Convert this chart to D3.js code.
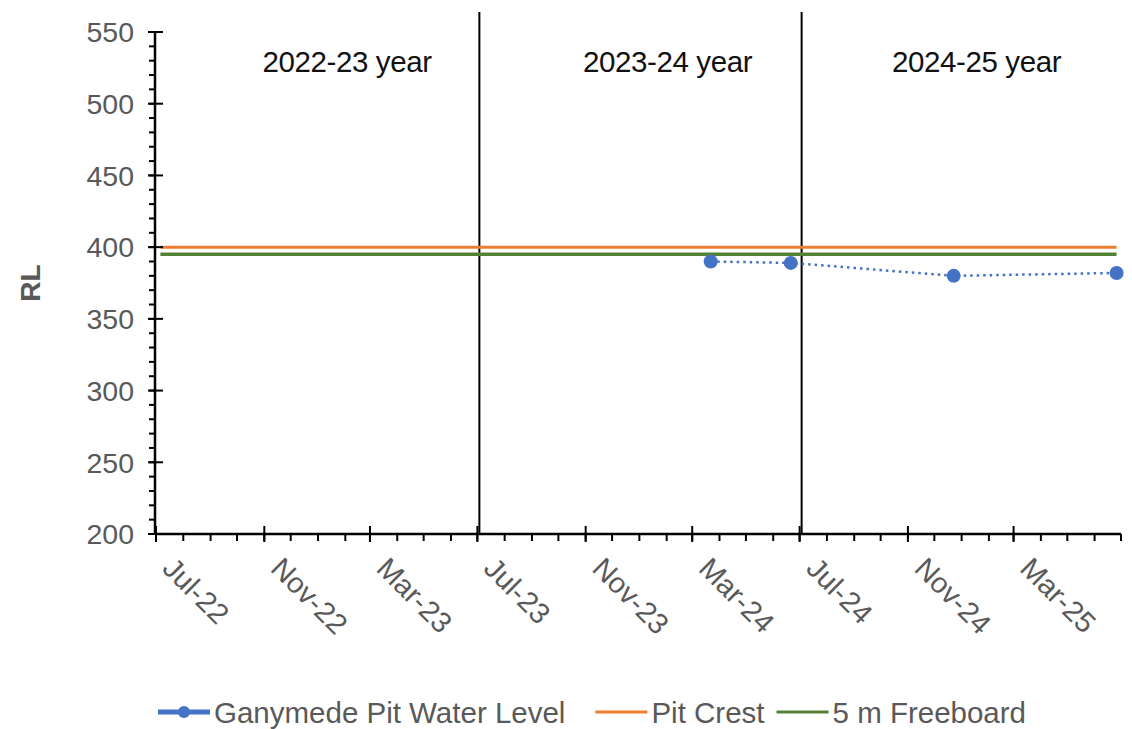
<!DOCTYPE html>
<html>
<head>
<meta charset="utf-8">
<script src="https://cdn.jsdelivr.net/npm/d3@7"></script>
<style>
  html, body { margin: 0; padding: 0; background: #fff; }
  svg { display: block; font-family: "Liberation Sans", Arial, sans-serif; }
</style>
</head>
<body>
<svg id="chart" width="1132" height="729"></svg>
<script>
// ---- data ----
const waterDates = ["2024-03-22", "2024-06-21", "2024-12-23", "2025-06-26"];
const waterLevels = [390, 389, 380, 382];
const crestSpan = ["2022-07-06", "2025-06-26"];
const pitCrest = 400;
const freeboard = 395;
const yearLineDates = ["2023-07-01", "2024-07-01"];
const yearLineExtent = [200, 564];
const yearLabels = ["2022-23 year", "2023-24 year", "2024-25 year"];
const yearLabelDates = ["2023-02-03", "2024-02-02", "2025-01-18"];
const yearLabelLevel = 522;
const xDomain = ["2022-07-01", "2025-07-01"];
const yDomain = [200, 550];
const yTicks = [200, 250, 300, 350, 400, 450, 500, 550];
const xTickDates = ["2022-07-01", "2022-11-01", "2023-03-01", "2023-07-01", "2023-11-01", "2024-03-01", "2024-07-01", "2024-11-01", "2025-03-01"];
const xTickLabels = ["Jul-22", "Nov-22", "Mar-23", "Jul-23", "Nov-23", "Mar-24", "Jul-24", "Nov-24", "Mar-25"];
const legendNames = ["Ganymede Pit Water Level", "Pit Crest", "5 m Freeboard"];
const colors = ["#4472C4", "#ED7D31", "#548235"];

(function () {
const parse = d3.utcParse("%Y-%m-%d");
const svg = d3.select("#chart");
const pLeft = 156, pRight = 1121, pTop = 32, pBottom = 534;
const axisStart = 155;

const x = d3.scaleUtc().domain(xDomain.map(parse)).range([pLeft, pRight]);
const y = d3.scaleLinear().domain(yDomain).range([pBottom, pTop]);

const gray = "#595959";

// Year separator lines
svg.selectAll(".yl").data(yearLineDates).enter().append("line")
  .attr("x1", d => x(parse(d)) + 2).attr("x2", d => x(parse(d)) + 2)
  .attr("y1", y(yearLineExtent[0])).attr("y2", y(yearLineExtent[1]))
  .attr("stroke", "#000").attr("stroke-width", 2);

// Year labels
svg.selectAll(".yt").data(yearLabels).enter().append("text")
  .attr("x", (d, i) => x(parse(yearLabelDates[i])))
  .attr("y", y(yearLabelLevel))
  .attr("text-anchor", "middle")
  .attr("font-size", 29.5).attr("fill", "#111")
  .attr("letter-spacing", "-0.4")
  .text(d => d);

// Horizontal reference lines
const span = crestSpan.map(parse);
svg.append("line").attr("x1", x(span[0])).attr("x2", x(span[1]))
  .attr("y1", y(pitCrest)).attr("y2", y(pitCrest))
  .attr("stroke", colors[1]).attr("stroke-width", 3);
svg.append("line").attr("x1", x(span[0])).attr("x2", x(span[1]))
  .attr("y1", y(freeboard)).attr("y2", y(freeboard))
  .attr("stroke", colors[2]).attr("stroke-width", 3.5);

// Water level series
const pts = waterDates.map((d, i) => ({ date: parse(d), v: waterLevels[i] }));
svg.append("path").datum(pts)
  .attr("d", d3.line().x(d => x(d.date)).y(d => y(d.v)))
  .attr("fill", "none").attr("stroke", colors[0]).attr("stroke-width", 2.5)
  .attr("stroke-dasharray", "2.5,4");
svg.selectAll(".pt").data(pts).enter().append("circle")
  .attr("cx", d => x(d.date)).attr("cy", d => y(d.v)).attr("r", 7)
  .attr("fill", colors[0]);

// Y axis
const yMinor = d3.range(yDomain[0], yDomain[1] + 1, 10);
svg.selectAll(".ymin").data(yMinor).enter().append("line")
  .attr("x1", axisStart - 6).attr("x2", axisStart)
  .attr("y1", d => y(d)).attr("y2", d => y(d))
  .attr("stroke", "#000").attr("stroke-width", 2);
svg.selectAll(".ymaj").data(yTicks).enter().append("line")
  .attr("x1", axisStart - 7).attr("x2", axisStart + 8)
  .attr("y1", d => y(d)).attr("y2", d => y(d))
  .attr("stroke", "#000").attr("stroke-width", 2);
svg.append("line").attr("x1", axisStart).attr("x2", axisStart).attr("y1", y(yDomain[0])).attr("y2", y(yDomain[1]))
  .attr("stroke", "#000").attr("stroke-width", 2.5);
svg.selectAll(".ylab").data(yTicks).enter().append("text")
  .attr("x", axisStart - 21).attr("y", d => y(d)).attr("dy", "0.36em")
  .attr("text-anchor", "end").attr("font-size", 28.5).attr("fill", gray)
  .text(d => d);
svg.append("text")
  .attr("transform", `translate(40,${(pTop + pBottom) / 2}) rotate(-90)`)
  .attr("text-anchor", "middle").attr("font-size", 28).attr("font-weight", "bold")
  .attr("fill", gray).text("RL");

// X axis
const xMinor = d3.utcMonth.range(parse(xDomain[0]), d3.utcDay.offset(parse(xDomain[1]), 1));
svg.selectAll(".xmin").data(xMinor).enter().append("line")
  .attr("x1", d => x(d)).attr("x2", d => x(d))
  .attr("y1", pBottom).attr("y2", pBottom + 7)
  .attr("stroke", "#000").attr("stroke-width", 2);
svg.selectAll(".xmaj").data(xTickDates).enter().append("line")
  .attr("x1", d => x(parse(d))).attr("x2", d => x(parse(d)))
  .attr("y1", pBottom - 8).attr("y2", pBottom + 8)
  .attr("stroke", "#000").attr("stroke-width", 2);
svg.append("line").attr("x1", axisStart).attr("x2", pRight).attr("y1", pBottom).attr("y2", pBottom)
  .attr("stroke", "#000").attr("stroke-width", 2.5);
svg.selectAll(".xlab").data(xTickLabels).enter().append("text")
  .attr("transform", (d, i) => `translate(${x(parse(xTickDates[i])) + 5},${pBottom + 36}) rotate(45)`)
  .attr("text-anchor", "start").attr("font-size", 29).attr("fill", gray)
  .text(d => d);

// Legend
const legend = svg.append("g");
let cx = 0;
const ly = 712;
const gaps = [30, 12];
legendNames.forEach((name, i) => {
  const g = legend.append("g").attr("transform", `translate(${cx},0)`);
  g.append("line").attr("x1", 0).attr("x2", 52).attr("y1", ly).attr("y2", ly)
    .attr("stroke", colors[i]).attr("stroke-width", i === 0 ? 5 : 3);
  if (i === 0) g.append("circle").attr("cx", 26).attr("cy", ly).attr("r", 6).attr("fill", colors[0]);
  const t = g.append("text").attr("x", 56).attr("y", ly).attr("dy", "0.36em")
    .attr("font-size", 29.5).attr("fill", gray).text(name);
  cx += 56 + t.node().getComputedTextLength() + (gaps[i] || 0);
});
legend.attr("transform", `translate(158,0)`);
})();
</script>
</body>
</html>
